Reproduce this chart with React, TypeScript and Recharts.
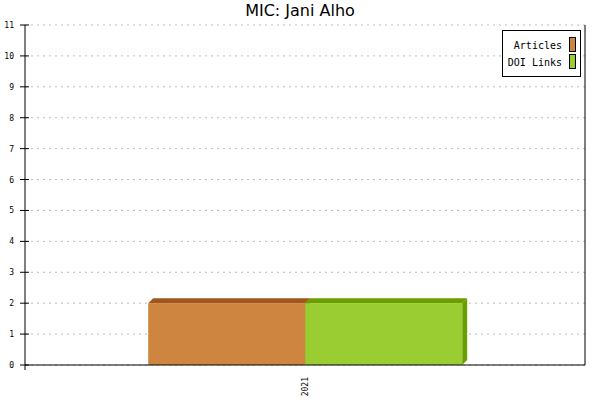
import React from 'react';
import { BarChart, Bar, XAxis, YAxis, CartesianGrid, Legend } from 'recharts';

const categories = ['2021'];
const articles = [2];
const doiLinks = [2];
const yTicks = [0, 1, 2, 3, 4, 5, 6, 7, 8, 9, 10, 11];
const title = 'MIC: Jani Alho';

const seriesInfo = [
  { key: 'articles', name: 'Articles', fill: '#CD853F', dark: '#A0561A' },
  { key: 'doi', name: 'DOI Links', fill: '#9ACD32', dark: '#6B9E00' },
];

const data = categories.map((c, i) => ({ year: c, articles: articles[i], doi: doiLinks[i] }));

const DEPTH_X = 5;
const DEPTH_Y = 5;

const make3DShape = (fill: string, dark: string) => (props: any) => {
  const { x, y, width, height } = props;
  if (width == null || height == null) return <g />;
  const top = `${x},${y} ${x + DEPTH_X},${y - DEPTH_Y} ${x + width + DEPTH_X},${y - DEPTH_Y} ${x + width},${y}`;
  const side = `${x + width},${y} ${x + width + DEPTH_X},${y - DEPTH_Y} ${x + width + DEPTH_X},${y + height - DEPTH_Y} ${x + width},${y + height}`;
  return (
    <g>
      <polygon points={side} fill={dark} />
      <polygon points={top} fill={dark} />
      <rect x={x} y={y} width={width} height={height} fill={fill} />
    </g>
  );
};

const LeftTick = (props: any) => {
  const { x, y, payload } = props;
  return (
    <g>
      <line x1={x - 5} x2={x + 4} y1={y} y2={y} stroke="#000" strokeWidth={1} />
      {payload.value === 0 && <line x1={x} x2={x} y1={y} y2={y + 5} stroke="#000" strokeWidth={1} />}
      <text x={x - 11} y={y} dy={3} textAnchor="end" fontFamily="DejaVu Sans Mono" fontSize={8} fill="#000">
        {payload.value}
      </text>
    </g>
  );
};

const RightTick = (props: any) => {
  const { x, y, payload } = props;
  if (payload.value !== 0) return <g />;
  return <line x1={x} x2={x} y1={y} y2={y + 5} stroke="#000" strokeWidth={1} />;
};

const XTick = (props: any) => {
  const { x, y, payload } = props;
  return (
    <text
      transform={`translate(${x + 3},${y + 12}) rotate(-90)`}
      textAnchor="end"
      fontFamily="DejaVu Sans Mono"
      fontSize={8}
      fill="#000"
    >
      {payload.value}
    </text>
  );
};

const LegendContent = () => (
  <div
    style={{
      position: 'relative',
      width: 77,
      height: 45,
      border: '1px solid #000',
      background: '#fff',
      fontFamily: 'DejaVu Sans Mono',
      fontSize: 10,
      boxSizing: 'content-box',
    }}
  >
    {seriesInfo.map((s, i) => (
      <div
        key={s.key}
        style={{
          position: 'absolute',
          right: 4,
          top: 6 + i * 17,
          display: 'flex',
          alignItems: 'flex-end',
          height: 15,
        }}
      >
        <span style={{ marginRight: 7, lineHeight: '12px' }}>{s.name}</span>
        <span
          style={{
            display: 'inline-block',
            width: 5,
            height: 13,
            background: s.fill,
            border: '1px solid #000',
          }}
        />
      </div>
    ))}
  </div>
);

export default function App() {
  return (
    <div style={{ position: 'absolute', left: 0, top: 0, width: 600, height: 400, background: '#fff' }}>
      <div
        style={{
          position: 'absolute',
          left: 0,
          top: 1,
          width: 600,
          textAlign: 'center',
          fontFamily: 'DejaVu Sans',
          fontSize: 16,
          lineHeight: '20px',
          color: '#000',
        }}
      >
        {title}
      </div>
      <BarChart
        width={600}
        height={400}
        data={data}
        margin={{ top: 25, right: 0, bottom: 0, left: 0 }}
        barCategoryGap="22%"
        barGap={0}
      >
        <CartesianGrid
          yAxisId="left"
          horizontal
          vertical={false}
          stroke="#bbbbbb"
          strokeDasharray="2 4"
        />
        <XAxis
          dataKey="year"
          height={35}
          axisLine={{ stroke: '#000' }}
          tickLine={false}
          tickSize={0}
          tickMargin={0}
          tick={<XTick />}
          interval={0}
        />
        <YAxis
          yAxisId="left"
          orientation="left"
          width={25}
          domain={[0, 11]}
          ticks={yTicks}
          interval={0}
          axisLine={{ stroke: '#000' }}
          tickLine={false}
          tickSize={0}
          tickMargin={0}
          tick={<LeftTick />}
        />
        <YAxis
          yAxisId="right"
          orientation="right"
          width={15}
          domain={[0, 11]}
          ticks={yTicks}
          interval={0}
          axisLine={{ stroke: '#000' }}
          tickLine={false}
          tickSize={0}
          tickMargin={0}
          tick={<RightTick />}
        />
        <Legend
          layout="vertical"
          align="center"
          verticalAlign="middle"
          content={<LegendContent />}
          wrapperStyle={{ top: 30, left: 502, width: 79, height: 47 }}
        />
        {seriesInfo.map((s) => (
          <Bar
            key={s.key}
            yAxisId="left"
            dataKey={s.key}
            name={s.name}
            fill={s.fill}
            shape={make3DShape(s.fill, s.dark)}
            isAnimationActive={false}
          />
        ))}
      </BarChart>
    </div>
  );
}
